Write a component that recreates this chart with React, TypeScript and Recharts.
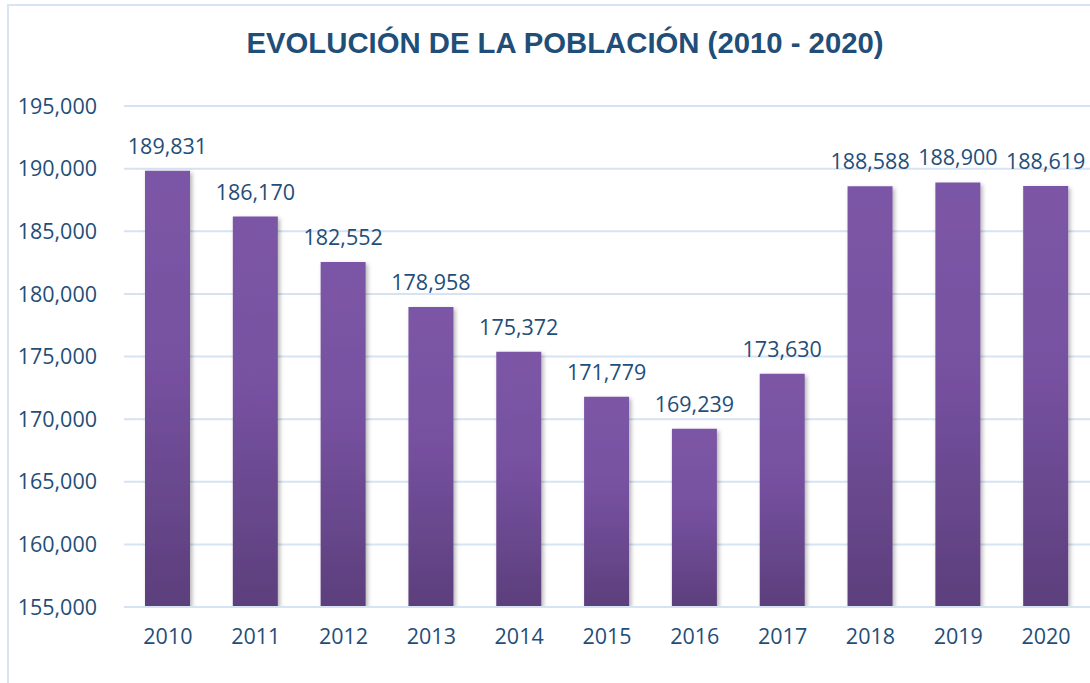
import React from "react";
import { BarChart, Bar, XAxis, YAxis, CartesianGrid, LabelList } from "recharts";

const years = ["2010", "2011", "2012", "2013", "2014", "2015", "2016", "2017", "2018", "2019", "2020"];
const population = [189831, 186170, 182552, 178958, 175372, 171779, 169239, 173630, 188588, 188900, 188619];
const yTicks = [155000, 160000, 165000, 170000, 175000, 180000, 185000, 190000, 195000];

const data = years.map((y, i) => ({ year: y, value: population[i] }));

const TEXT = "#1F4E79";
const FONT = "'Open Sans', 'Noto Sans', sans-serif";
const fmt = (v: number) => v.toLocaleString("en-US");

export default function App() {
  return (
    <div style={{ position: "absolute", left: 0, top: 0, width: 1090, height: 683, overflow: "hidden", background: "#fff" }}>
      <div style={{ position: "absolute", left: 7, top: 4, width: 1200, height: 800, border: "2px solid #D9E4F2", boxSizing: "border-box" }} />
      <div style={{ position: "absolute", left: 0, top: 26, width: 1130, textAlign: "center", fontFamily: "'Liberation Sans', Arial, sans-serif", fontWeight: "bold", fontSize: 29.3, color: TEXT }}>
        EVOLUCIÓN DE LA POBLACIÓN (2010 - 2020)
      </div>
      <div style={{ position: "absolute", left: 0, top: 0 }}>
        <BarChart width={1090} height={683} data={data} margin={{ top: 106, right: 0, bottom: 46, left: 0 }}>
          <defs>
            <linearGradient id="barGrad" x1="0" y1="0" x2="0" y2="1">
              <stop offset="0%" stopColor="#7C56A6" />
              <stop offset="45%" stopColor="#7651A0" />
              <stop offset="100%" stopColor="#5C3F7C" />
            </linearGradient>
            <filter id="shadow" x="-20%" y="-5%" width="140%" height="110%">
              <feDropShadow dx="2" dy="2" stdDeviation="2" floodColor="#000" floodOpacity="0.3" />
            </filter>
          </defs>
          <CartesianGrid vertical={false} stroke="#D6E3F3" strokeWidth={2} />
          <XAxis
            dataKey="year"
            height={30}
            axisLine={{ stroke: "#D6E3F3", strokeWidth: 2 }}
            tickLine={false}
            tickSize={0}
            tickMargin={22}
            tick={{ fill: TEXT, fontSize: 21.5, fontFamily: FONT }}
          />
          <YAxis
            width={124}
            domain={[155000, 195000]}
            ticks={yTicks}
            allowDataOverflow
            axisLine={false}
            tickLine={false}
            tickSize={0}
            tickMargin={27}
            tickFormatter={fmt}
            tick={{ fill: TEXT, fontSize: 21.5, fontFamily: FONT }}
          />
          <Bar dataKey="value" barSize={45} fill="url(#barGrad)" filter="url(#shadow)" isAnimationActive={false}>
            <LabelList dataKey="value" position="top" offset={17} formatter={(v: any) => fmt(Number(v))} style={{ fill: TEXT, fontSize: 21.5, fontFamily: FONT }} />
          </Bar>
        </BarChart>
      </div>
    </div>
  );
}
